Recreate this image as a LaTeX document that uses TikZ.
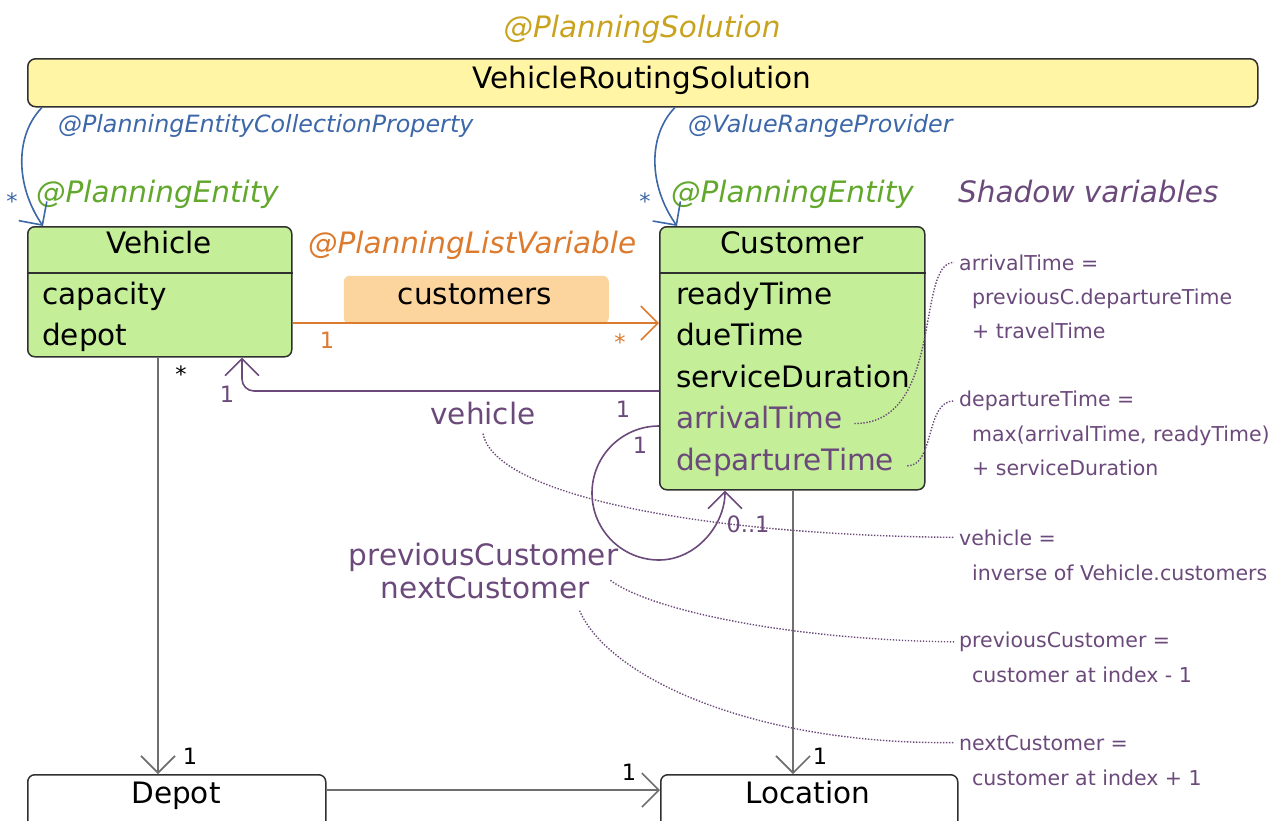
\documentclass[tikz,border=0pt]{standalone}
\usepackage{fontspec}
\setmainfont{DejaVu Sans}
\usepackage{xcolor}
\usepackage{tikz}
\usetikzlibrary{arrows.meta,positioning}

\definecolor{solfill}{HTML}{FFF5A5}
\definecolor{entfill}{HTML}{C4EE98}
\definecolor{listfill}{HTML}{FBD49E}
\definecolor{listorange}{HTML}{DC7A2E}
\definecolor{annblue}{HTML}{3C67A8}
\definecolor{entgreen}{HTML}{62A82C}
\definecolor{solgold}{HTML}{C9A31E}
\definecolor{shadow}{HTML}{6B4A7B}
\definecolor{linegray}{HTML}{6F6F6F}
\definecolor{boxline}{HTML}{303030}

\begin{document}
\begin{tikzpicture}[x=1pt, y=-1pt,
  box/.style={draw=boxline, line width=1.5pt, rounded corners=7pt, inner sep=0pt, anchor=north west},
  txt/.style={inner sep=0pt, font=\fontsize{29.5}{35}\selectfont},
  itxt/.style={inner sep=0pt, font=\fontsize{29.5}{35}\selectfont\itshape},
  ann/.style={inner sep=0pt, anchor=base west, font=\fontsize{23.8}{28}\selectfont\itshape, text=annblue},
  note/.style={inner sep=0pt, anchor=base west, font=\fontsize{20.5}{24}\selectfont, text=shadow},
  mult/.style={inner sep=0pt, anchor=base, font=\fontsize{22.5}{26}\selectfont},
  conn/.style={line width=1.6pt, -{Straight Barb[length=17pt,width=34pt]}},
  leader/.style={draw=shadow, line width=1.4pt, dash pattern=on 1.4pt off 1.6pt}
]
\clip (0,0) rectangle (1278,820);

% solution
\node[box, fill=solfill, rounded corners=8pt, minimum width=1230pt, minimum height=48pt] (solution) at (27,58) {};
\node[txt, anchor=base] (solName) at (642,88) {VehicleRoutingSolution};
\node[itxt, anchor=base, text=solgold] (solAnno) at (642,37) {@PlanningSolution};
\node[ann] (collAnno) at (58,132) {@PlanningEntityCollectionProperty};
\node[ann] (rangeAnno) at (688,132) {@ValueRangeProvider};

% entities
\node[box, fill=entfill, minimum width=264pt, minimum height=130pt] (vehicle) at (27,226) {};
\draw[draw=boxline, line width=1.5pt] ([yshift=-47pt]vehicle.north west) -- ([yshift=-47pt]vehicle.north east);
\node[txt, anchor=base] (vehTitle) at (159,253) {Vehicle};
\node[txt, anchor=base west] (vehCap) at (42,304) {capacity};
\node[txt, anchor=base west] (vehDepot) at (42,345.5) {depot};
\node[itxt, anchor=base west, text=entgreen] (vehAnno) at (36,202) {@PlanningEntity};

\node[box, fill=entfill, minimum width=265pt, minimum height=263pt] (customer) at (659,226) {};
\draw[draw=boxline, line width=1.5pt] ([yshift=-47pt]customer.north west) -- ([yshift=-47pt]customer.north east);
\node[txt, anchor=base] (custTitle) at (792,253) {Customer};
\node[txt, anchor=base west] (custReady) at (676,304) {readyTime};
\node[txt, anchor=base west] (custDue) at (676,345.5) {dueTime};
\node[txt, anchor=base west] (custService) at (676,387) {serviceDuration};
\node[txt, anchor=base west, text=shadow] (custArr) at (676,428.5) {arrivalTime};
\node[txt, anchor=base west, text=shadow] (custDep) at (676,470) {departureTime};
\node[itxt, anchor=base west, text=entgreen] (custAnno) at (671,202) {@PlanningEntity};

% problem facts
\node[box, fill=white, minimum width=298pt, minimum height=60pt] (depot) at (27,774) {};
\node[txt, anchor=base] (depotName) at (176,803) {Depot};
\node[box, fill=white, minimum width=297pt, minimum height=60pt] (location) at (660,774) {};
\node[txt, anchor=base] (locName) at (808,803) {Location};

% list variable
\node[itxt, anchor=base west, text=listorange] (listAnno) at (308,253) {@PlanningListVariable};
\node[box, draw=none, fill=listfill, rounded corners=6pt, minimum width=265pt, minimum height=48pt] (listBox) at (343,275) {};
\node[txt, anchor=base] (listName) at (475,304) {customers};

% connectors
\draw[conn, draw=annblue] ([xshift=15pt]solution.south west) .. controls (15,135) and (15,185) .. ([xshift=16pt]vehicle.north west);
\draw[conn, draw=annblue] ([xshift=648pt]solution.south west) .. controls (648,135) and (648,185) .. ([xshift=18pt]customer.north west);
\draw[conn, draw=listorange] ([yshift=-97pt]vehicle.north east) -- ([yshift=-97pt]customer.north west);
\draw[conn, draw=shadow, rounded corners=12pt] ([yshift=-165pt]customer.north west) -| ([xshift=215pt]vehicle.south west);
\draw[conn, draw=shadow] ([yshift=-200pt]customer.north west) .. controls (622,426) and (592,456) .. (592,493)
  .. controls (592,530) and (622,560) .. (659,560) .. controls (696,560) and (725,525) .. ([xshift=66pt]customer.south west);
\draw[conn, draw=linegray] ([xshift=131pt]vehicle.south west) -- ([xshift=131pt]depot.north west);
\draw[conn, draw=linegray] ([xshift=134pt]customer.south west) -- ([xshift=133pt]location.north west);
\draw[conn, draw=linegray] ([yshift=-16pt]depot.north east) -- ([yshift=-16pt]location.north west);

% multiplicities
\node[mult, text=annblue] (m1) at (12,209) {*};
\node[mult, text=annblue] (m2) at (645,209) {*};
\node[mult, text=listorange] (m3) at (327,348) {1};
\node[mult, text=listorange] (m4) at (620,350) {*};
\node[mult] (m5) at (181,382) {*};
\node[mult, text=shadow] (m6) at (227,402) {1};
\node[mult, text=shadow] (m7) at (623,417) {1};
\node[mult, text=shadow] (m8) at (640,453) {1};
\node[mult, text=shadow] (m9) at (748,532) {0..1};
\node[mult] (m10) at (190,764) {1};
\node[mult] (m11) at (820,764) {1};
\node[mult] (m12) at (629,780) {1};

% shadow variables
\node[txt, anchor=base, text=shadow] (vehLbl) at (483,424) {vehicle};
\node[txt, anchor=base, text=shadow] (prevLbl) at (483.5,565) {previousCustomer};
\node[txt, anchor=base, text=shadow] (nextLbl) at (485,598) {nextCustomer};
\node[itxt, anchor=base west, text=shadow] (shadowHead) at (958,202) {Shadow variables};

\node[note] (shArr) at (959,270) {arrivalTime =};
\node[note] (shArr2) at (972,304) {previousC.departureTime};
\node[note] (shArr3) at (972,338) {+ travelTime};
\node[note] (shDep) at (959,406.5) {departureTime =};
\node[note] (shDep2) at (972,441) {max(arrivalTime, readyTime)};
\node[note] (shDep3) at (972,475) {+ serviceDuration};
\node[note] (shVeh) at (959,545) {vehicle =};
\node[note] (shVeh2) at (972,580) {inverse of Vehicle.customers};
\node[note] (shPrev) at (959,647.5) {previousCustomer =};
\node[note] (shPrev2) at (972,682) {customer at index - 1};
\node[note] (shNext) at (959,750) {nextCustomer =};
\node[note] (shNext2) at (972,785) {customer at index + 1};

\draw[leader] ([xshift=12pt,yshift=-6pt]custArr.east) .. controls (945,424) and (915,262) .. ([xshift=-5pt]shArr.west);
\draw[leader] ([xshift=13pt,yshift=-4pt]custDep.east) .. controls (935,466) and (925,401) .. ([xshift=-5pt]shDep.west);
\draw[leader] ([yshift=-9pt]vehLbl.south) .. controls (495,495) and (700,535) .. ([xshift=-5pt]shVeh.west);
\draw[leader] ([xshift=-8pt,yshift=-9pt]prevLbl.south east) .. controls (650,610) and (790,640) .. ([xshift=-5pt]shPrev.west);
\draw[leader] ([xshift=-10pt,yshift=-12pt]nextLbl.south east) .. controls (610,680) and (760,745) .. ([xshift=-5pt]shNext.west);
\end{tikzpicture}
\end{document}
